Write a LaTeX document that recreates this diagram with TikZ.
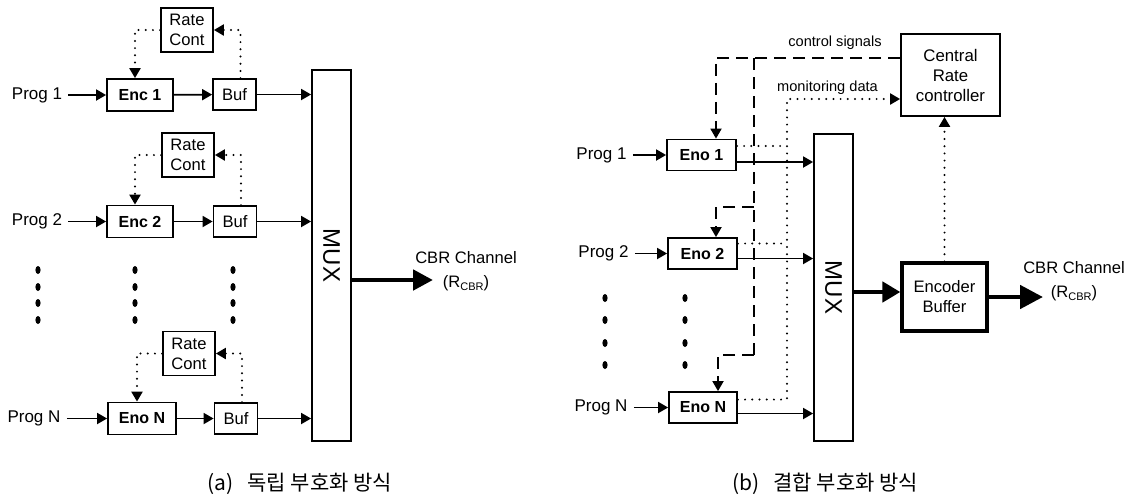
\documentclass[tikz,border=0pt]{standalone}
\usepackage{fontspec}
\setmainfont{Liberation Sans}
\newfontfamily\krfont{Noto Sans CJK KR}
\usetikzlibrary{arrows.meta,calc}
\newcommand{\Rsub}{(R\raisebox{-0.4ex}{\fontsize{5.5pt}{6pt}\selectfont CBR})}
\begin{document}
\begin{tikzpicture}[x=0.5pt,y=-0.5pt,
  box/.style={draw, line width=0.9pt, inner sep=0pt, align=center},
  encbox/.style={box, minimum width=33pt, minimum height=16pt, font=\fontsize{8pt}{9.6pt}\selectfont\bfseries},
  bufbox/.style={box, minimum width=21.5pt, minimum height=15.5pt, font=\fontsize{8.3pt}{10pt}\selectfont},
  ratebox/.style={box, minimum width=26pt, minimum height=22pt, font=\fontsize{8.3pt}{10pt}\selectfont},
  muxbox/.style={box, minimum width=19.5pt},
  muxtxt/.style={rotate=-90, inner sep=0pt, font=\fontsize{12pt}{14pt}\selectfont},
  txt/.style={inner sep=3pt, font=\fontsize{8.5pt}{10pt}\selectfont},
  small/.style={inner sep=0pt, font=\fontsize{7.3pt}{9pt}\selectfont},
  lbl/.style={inner sep=0pt, align=center, font=\fontsize{8.3pt}{12pt}\selectfont},
  capt/.style={inner sep=0pt, anchor=west, font=\krfont\fontsize{10.5pt}{12pt}\selectfont},
  arr/.style={-{Triangle[length=5pt,width=5.5pt]}},
  ln/.style={line width=0.9pt},
  dotl/.style={line width=1.1pt, dash pattern=on 0pt off 3.6pt, line cap=round},
  dashl/.style={line width=0.9pt, dash pattern=on 6pt off 3.5pt},
  big/.style={line width=2.4pt, -{Triangle[length=10pt,width=10pt]}},
]
\useasboundingbox (0,0) rectangle (1131,499);

% ---------------- (a) ----------------
\node[txt] (p1a) at (37,95) {Prog 1};
\node[txt] (p2a) at (37,221.5) {Prog 2};
\node[txt] (pNa) at (34,418.5) {Prog N};
\node[encbox] (e1a) at (140,95) {Enc 1};
\node[encbox] (e2a) at (140,221.5) {Enc 2};
\node[encbox, minimum width=34pt] (eNa) at (142,418.5) {Eno N};
\node[bufbox] (b1a) at (234.5,94.5) {Buf};
\node[bufbox] (b2a) at (235,221.5) {Buf};
\node[bufbox] (bNa) at (236,418.5) {Buf};
\node[ratebox] (r1a) at (187,30) {Rate\\Cont};
\node[ratebox] (r2a) at (188,155) {Rate\\Cont};
\node[ratebox] (rNa) at (189,353.5) {Rate\\Cont};
\node[muxbox, minimum height=185.5pt] (muxa) at (331.5,255.5) {};
\node[muxtxt] (muxat) at (muxa.center) {MUX};

\foreach \p/\e/\b/\r in {p1a/e1a/b1a/r1a, p2a/e2a/b2a/r2a, pNa/eNa/bNa/rNa}{
  \draw[ln,arr] (\p) -- (\e);
  \draw[ln,arr] (\e) -- (\b);
  \draw[ln,arr] (\b.east) -- (\b.east -| muxa.west);
  \draw[dotl,arr] (\r.west) -| ([xshift=-2.5pt]\e.north);
  \draw[dotl,arr] ([xshift=3pt]\b.north) |- (\r.east);
}

\foreach \x in {38,135,233}
  \foreach \y in {270,287,303,320}
    \fill (\x,\y) ellipse [x radius=1.3pt, y radius=2pt];

\coordinate (outa) at (433,280);
\draw[big] (outa -| muxa.east) -- (outa);
\node[lbl] (cbra) at (466,271) {CBR Channel\\\Rsub};

\node[capt] (capa) at (207,484) {(a)\hspace{7pt}독립 부호화 방식};

% ---------------- (b) ----------------
\node[txt] (p1b) at (601.5,155) {Prog 1};
\node[txt] (p2b) at (603.5,253.5) {Prog 2};
\node[txt] (pNb) at (601,407.5) {Prog N};
\node[encbox, minimum width=34.5pt, minimum height=15.5pt] (e1b) at (701.5,155) {Eno 1};
\node[encbox, minimum width=34.5pt, minimum height=15.5pt] (e2b) at (702.5,253.5) {Eno 2};
\node[encbox, minimum width=34pt, minimum height=15.5pt] (eNb) at (703,407.5) {Eno N};
\node[muxbox, minimum height=153.5pt] (muxb) at (833.5,287.5) {};
\node[muxtxt] (muxbt) at (muxb.center) {MUX};
\node[box, minimum width=49.5pt, minimum height=41pt, font=\fontsize{8.4pt}{10pt}\selectfont] (crc) at (950.5,75) {Central\\Rate\\controller};
\node[box, line width=1.6pt, minimum width=42.5pt, minimum height=34pt, font=\fontsize{8.3pt}{10pt}\selectfont] (ebuf) at (944.5,297) {Encoder\\Buffer};

\foreach \p/\e in {p1b/e1b, p2b/e2b, pNb/eNb}{
  \draw[ln,arr] (\p) -- (\e);
}
\coordinate (o1) at ([yshift=-3.5pt]e1b.east);
\coordinate (o2) at ([yshift=-2.5pt]e2b.east);
\coordinate (oN) at ([yshift=-3pt]eNb.east);
\draw[ln,arr] (o1) -- (o1 -| muxb.west);
\draw[ln,arr] (o2) -- (o2 -| muxb.west);
\draw[ln,arr] (oN) -- (oN -| muxb.west);

\foreach \x in {605,685}
  \foreach \y in {298,320,343,365}
    \fill (\x,\y) ellipse [x radius=1.3pt, y radius=2pt];

% monitoring data (dotted)
\coordinate (mtop) at (787,99);
\coordinate (m1) at ([yshift=4.5pt]e1b.east);
\coordinate (m2) at ([yshift=5pt]e2b.east);
\coordinate (mN) at ([yshift=4pt]eNb.east);
\draw[dotl] (m1) -- (m1 -| mtop);
\draw[dotl] (m2) -- (m2 -| mtop);
\draw[dotl,arr] (mN) -| (mtop) -- (mtop -| crc.west);

% control signals (dashed)
\coordinate (ctop) at (754,58);
\coordinate (cmid) at (754,207);
\coordinate (cbot) at (754,355);
\draw[dashl,arr] (ctop -| crc.west) -| ([xshift=7.25pt]e1b.north);
\draw[dashl] (ctop) -- (cbot);
\draw[dashl,arr] (cmid) -| ([xshift=6.75pt]e2b.north);
\draw[dashl,arr] (cbot) -| ([xshift=7.5pt]eNb.north);

\node[small] (cs) at (835,43) {control signals};
\node[small] (md) at (827.5,88) {monitoring data};

\draw[dotl,arr] (ebuf.north) -- (ebuf.north |- crc.south);
\coordinate (ebin) at ([yshift=2.5pt]ebuf.west);
\draw[line width=2.4pt, -{Triangle[length=9pt,width=10pt]}] (ebin -| muxb.east) -- (ebin);
\coordinate (outb) at (1043,297);
\draw[line width=2.4pt, -{Triangle[length=11.5pt,width=11.5pt]}] (ebuf.east) -- (outb);
\node[lbl] (cbrb) at (1074,281) {CBR Channel\\\Rsub};

\node[capt] (capb) at (732,484) {(b)\hspace{7pt}결합 부호화 방식};
\end{tikzpicture}
\end{document}
